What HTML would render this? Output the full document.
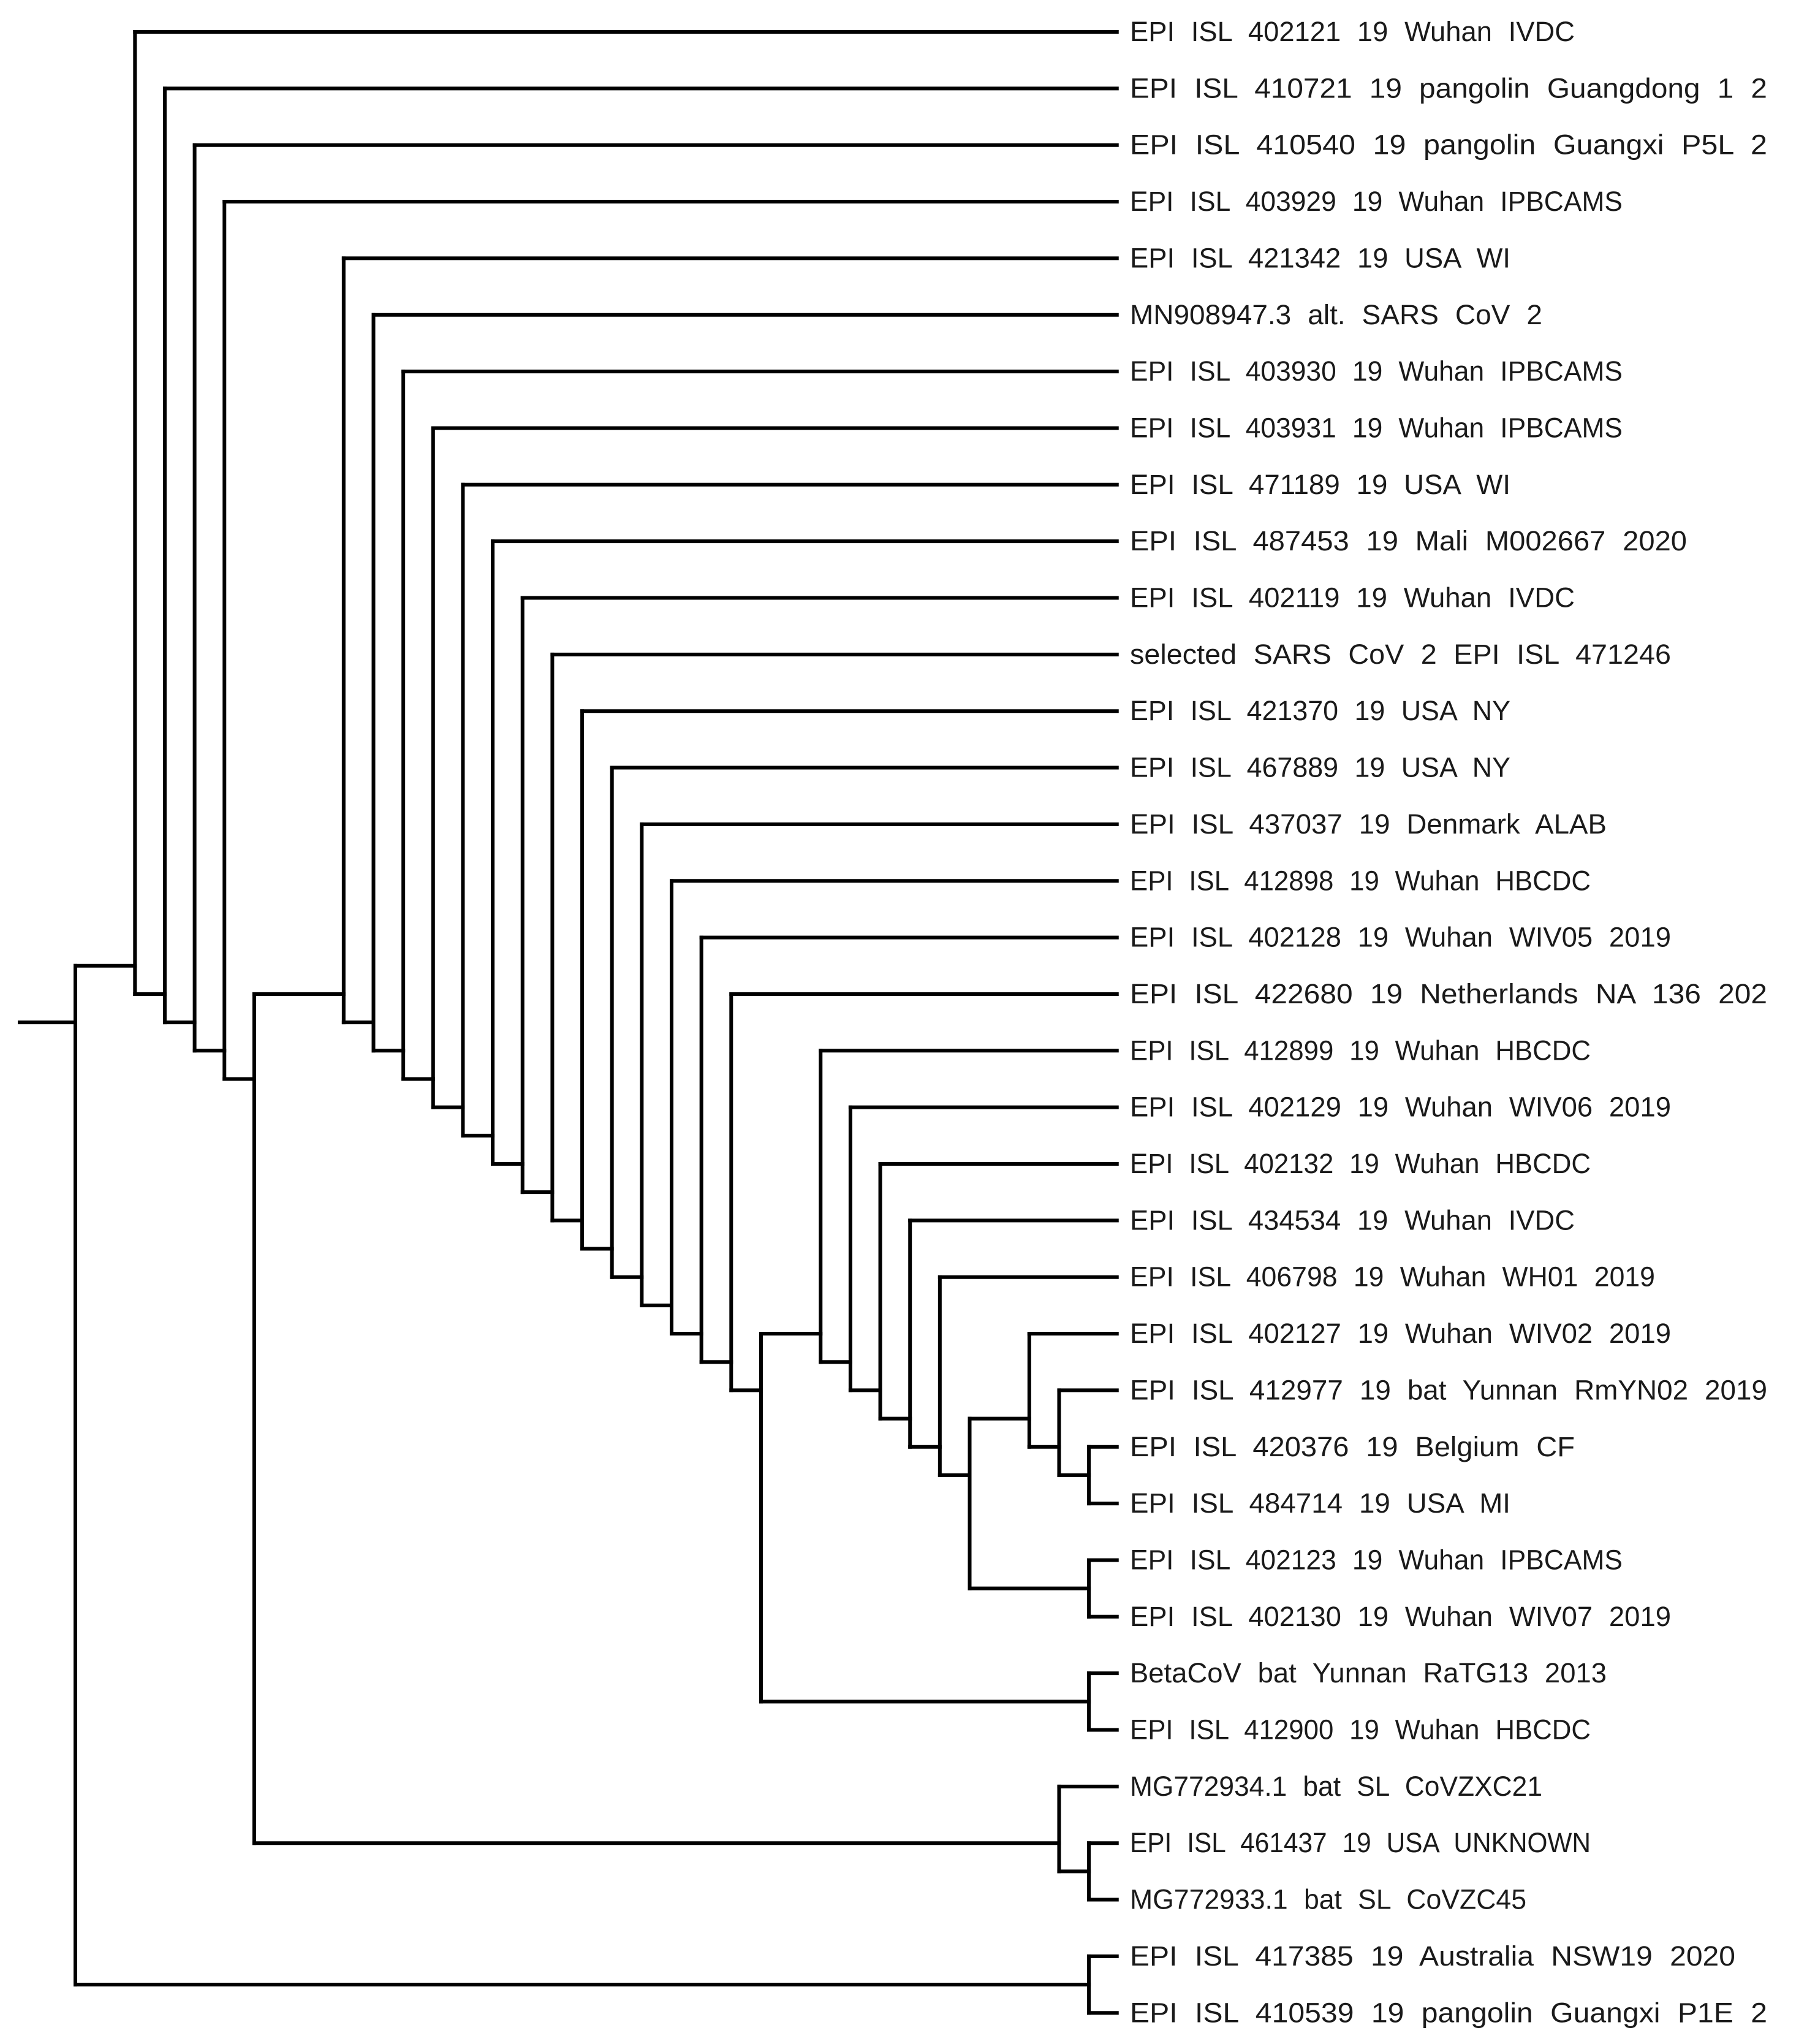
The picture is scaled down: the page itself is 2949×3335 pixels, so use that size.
<!DOCTYPE html>
<html><head><meta charset="utf-8"><style>
html,body{margin:0;padding:0;background:#fff}
svg{display:block}
text{font-family:"Liberation Sans",sans-serif;font-size:45px;fill:#1a1a1a;word-spacing:14px}
</style></head><body>
<svg id="tree" width="2949" height="3335" viewBox="0 0 2949 3335" xmlns="http://www.w3.org/2000/svg"></svg>
<script>
// leaf labels (top to bottom)
const leafLabels = [
"EPI ISL 402121 19 Wuhan IVDC",
"EPI ISL 410721 19 pangolin Guangdong 1 2",
"EPI ISL 410540 19 pangolin Guangxi P5L 2",
"EPI ISL 403929 19 Wuhan IPBCAMS",
"EPI ISL 421342 19 USA WI",
"MN908947.3 alt. SARS CoV 2",
"EPI ISL 403930 19 Wuhan IPBCAMS",
"EPI ISL 403931 19 Wuhan IPBCAMS",
"EPI ISL 471189 19 USA WI",
"EPI ISL 487453 19 Mali M002667 2020",
"EPI ISL 402119 19 Wuhan IVDC",
"selected SARS CoV 2 EPI ISL 471246",
"EPI ISL 421370 19 USA NY",
"EPI ISL 467889 19 USA NY",
"EPI ISL 437037 19 Denmark ALAB",
"EPI ISL 412898 19 Wuhan HBCDC",
"EPI ISL 402128 19 Wuhan WIV05 2019",
"EPI ISL 422680 19 Netherlands NA 136 202",
"EPI ISL 412899 19 Wuhan HBCDC",
"EPI ISL 402129 19 Wuhan WIV06 2019",
"EPI ISL 402132 19 Wuhan HBCDC",
"EPI ISL 434534 19 Wuhan IVDC",
"EPI ISL 406798 19 Wuhan WH01 2019",
"EPI ISL 402127 19 Wuhan WIV02 2019",
"EPI ISL 412977 19 bat Yunnan RmYN02 2019",
"EPI ISL 420376 19 Belgium CF",
"EPI ISL 484714 19 USA MI",
"EPI ISL 402123 19 Wuhan IPBCAMS",
"EPI ISL 402130 19 Wuhan WIV07 2019",
"BetaCoV bat Yunnan RaTG13 2013",
"EPI ISL 412900 19 Wuhan HBCDC",
"MG772934.1 bat SL CoVZXC21",
"EPI ISL 461437 19 USA UNKNOWN",
"MG772933.1 bat SL CoVZC45",
"EPI ISL 417385 19 Australia NSW19 2020",
"EPI ISL 410539 19 pangolin Guangxi P1E 2"
];
const leafDepth = 35;
// internal nodes: id -> depth
const nodeIds    = ["root","A","B","C","D","E","F","G","G2","Z","N10","N11","N12","N13","N14","N15","N16","N17","N18","N19","N20","N21","N22","N23","H","N25","N26","N27","N28","N29","N30","N32","N33","K1","K2"];
const nodeDepths = [0,2,3,4,5,6,9,33,34,34,10,11,12,13,14,15,16,17,18,19,20,21,22,23,34,25,26,27,28,29,30,32,33,34,34];
// children (numbers = leaf index, strings = node id)
const nodeChildren = {
 root:["A","Z"], A:[0,"B"], B:[1,"C"], C:[2,"D"], D:[3,"E"], E:["F","G"],
 G:[31,"G2"], G2:[32,33], Z:[34,35], F:[4,"N10"],
 N10:[5,"N11"],N11:[6,"N12"],N12:[7,"N13"],N13:[8,"N14"],N14:[9,"N15"],N15:[10,"N16"],
 N16:[11,"N17"],N17:[12,"N18"],N18:[13,"N19"],N19:[14,"N20"],N20:[15,"N21"],N21:[16,"N22"],
 N22:[17,"N23"], N23:["N25","H"], H:[29,30],
 N25:[18,"N26"],N26:[19,"N27"],N27:[20,"N28"],N28:[21,"N29"],N29:[22,"N30"],
 N30:["N32","K2"], K2:[27,28], N32:[23,"N33"], N33:[24,"K1"], K1:[25,26]
};
const svg = document.getElementById('tree');
const NS = "http://www.w3.org/2000/svg";
const xScale = d => 123 + d * 48.65;
const yScale = r => 52 + r * 92.35;
const depthOf = {}; nodeIds.forEach((id,i)=>depthOf[id]=nodeDepths[i]);
function leavesOf(c){ return typeof c==="number" ? [c] : nodeChildren[c].flatMap(leavesOf); }
function rowOf(c){ const l=leavesOf(c); return l.reduce((a,b)=>a+b,0)/l.length; }
function xOf(c){ return xScale(typeof c==="number" ? leafDepth : depthOf[c]); }
function line(x1,y1,x2,y2,name){
  const l=document.createElementNS(NS,'line');
  l.setAttribute('x1',x1);l.setAttribute('y1',y1);l.setAttribute('x2',x2);l.setAttribute('y2',y2);
  l.setAttribute('stroke','#000');l.setAttribute('stroke-width','6');l.setAttribute('stroke-linecap','square');
  
  
  svg.appendChild(l);
}
line(32, yScale(rowOf("root")), xScale(0), yScale(rowOf("root")), 'root-branch');
nodeIds.forEach(id=>{
  const x=xScale(depthOf[id]); const ch=nodeChildren[id];
  const ys=ch.map(c=>yScale(rowOf(c)));
  line(x,Math.min(...ys),x,Math.max(...ys),'node-'+id.toLowerCase()+'-vertical');
  ch.forEach((c,i)=>{
    line(x,ys[i],typeof c==="number"?xScale(leafDepth)-3:xOf(c),ys[i],'branch-to-'+(typeof c==="number"?'leaf-'+c:String(c).toLowerCase()));
  });
});
leafLabels.forEach((lab,i)=>{
  const t=document.createElementNS(NS,'text');
  t.setAttribute('x',1844); t.setAttribute('y',yScale(i)+15);
  t.setAttribute('textLength', Math.round(lab.length*26.2-8));
  t.setAttribute('lengthAdjust','spacingAndGlyphs');
  t.textContent=lab;
  
  
  svg.appendChild(t);
});
</script>
</body></html>
